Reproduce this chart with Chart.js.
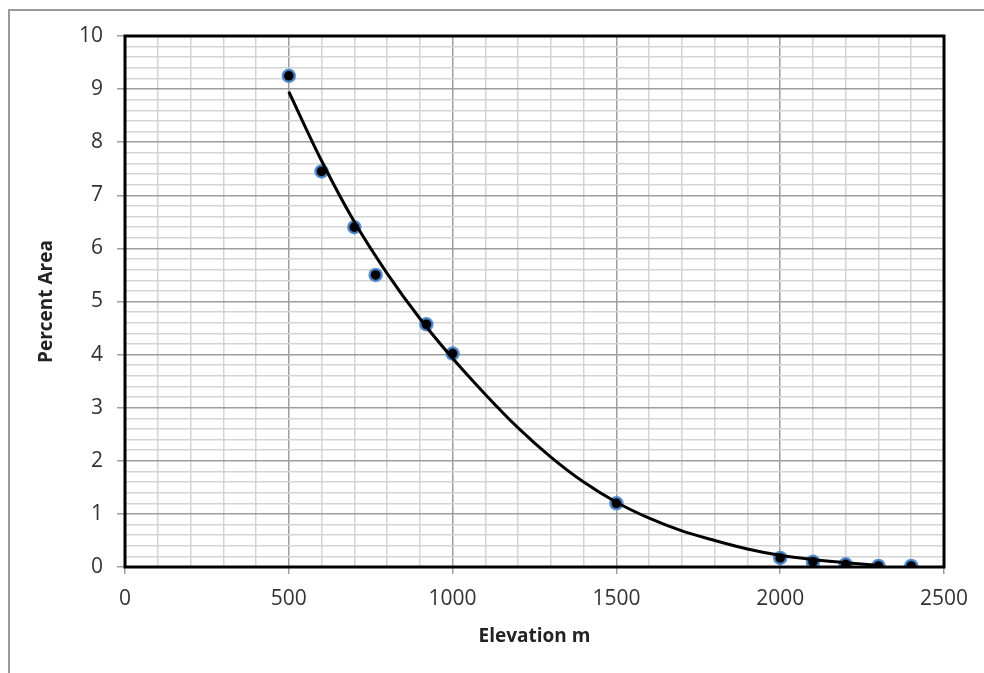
<!DOCTYPE html>
<html>
<head>
<meta charset="utf-8">
<script src="https://cdn.jsdelivr.net/npm/chart.js@4.4.1/dist/chart.umd.min.js"></script>
<style>
  html, body { margin: 0; padding: 0; background: #ffffff; overflow: hidden; }
  #frame { position: absolute; left: 8px; top: 9px; width: 2000px; height: 2000px;
           border-left: 2px solid #9a9a9a; border-top: 2px solid #9a9a9a; }
  #c { position: absolute; left: 0; top: 0; }
</style>
</head>
<body>
<div id="frame"></div>
<canvas id="c" width="984" height="673"></canvas>
<script>
// ---- data ----
const elevation = [500, 600, 700, 765, 920, 1000, 1500, 2000, 2100, 2200, 2300, 2400];
const percentArea = [9.25, 7.45, 6.4, 5.5, 4.57, 4.02, 1.2, 0.17, 0.1, 0.05, 0.02, 0.02];

// trend line as drawn in the reference (read at every 100 m)
const trendX = [500, 600, 700, 800, 900, 1000, 1100, 1200, 1300, 1400, 1500, 1600, 1700, 1800, 1900, 2000, 2100, 2200, 2300];
const trendY = [8.95, 7.65, 6.5, 5.53, 4.68, 3.93, 3.25, 2.62, 2.07, 1.6, 1.22, 0.92, 0.68, 0.5, 0.34, 0.22, 0.14, 0.08, 0.03];

// major tick labels
const xMajorTicks = [0, 500, 1000, 1500, 2000, 2500];
const yMajorTicks = [0, 1, 2, 3, 4, 5, 6, 7, 8, 9, 10];

const xTitle = 'Elevation m';
const yTitle = 'Percent Area';

const isMajor = (list, v) => list.some(m => Math.abs(m - v) < 1e-6);

const framePlugin = {
  id: 'plotFrame',
  afterDraw(chart) {
    const { ctx, chartArea: a } = chart;
    ctx.save();
    ctx.strokeStyle = '#000000';
    ctx.lineWidth = 3;
    ctx.strokeRect(a.left, a.top, a.right - a.left, a.bottom - a.top);
    ctx.restore();
  }
};

const tickFont = { family: "'Open Sans', sans-serif", size: 21 };
const titleFont = { family: "'Open Sans', sans-serif", size: 19, weight: 'bold' };

new Chart(document.getElementById('c'), {
  data: {
    datasets: [
      {
        type: 'line',
        label: 'Trend',
        data: trendX.map((x, i) => ({ x, y: trendY[i] })),
        borderColor: '#000000',
        borderWidth: 3,
        pointRadius: 0,
        fill: false,
        cubicInterpolationMode: 'monotone',
        order: 0
      },
      {
        type: 'scatter',
        label: 'Percent Area',
        data: elevation.map((x, i) => ({ x, y: percentArea[i] })),
        backgroundColor: '#000000',
        borderColor: 'rgba(74,134,205,0.9)',
        borderWidth: 2.5,
        pointRadius: 6,
        order: 1
      }
    ]
  },
  options: {
    responsive: false,
    animation: false,
    devicePixelRatio: 1,
    layout: { padding: { left: 19, top: 36, right: 40, bottom: 25 } },
    plugins: { legend: { display: false }, tooltip: { enabled: false } },
    scales: {
      x: {
        type: 'linear',
        min: 0, max: 2500,
        afterFit(s) { s.height = 81; },
        ticks: {
          stepSize: 100, autoSkip: false, maxRotation: 0, maxTicksLimit: 100,
          padding: 12, color: '#333333', font: tickFont,
          callback: v => isMajor(xMajorTicks, v) ? String(v) : ''
        },
        grid: {
          drawTicks: true, tickLength: 7,
          color: c => isMajor(xMajorTicks, c.tick.value) ? '#9e9e9e' : '#d4d4d4',
          tickColor: c => isMajor(xMajorTicks, c.tick.value) ? '#9e9e9e' : 'rgba(0,0,0,0)',
          lineWidth: 1.5
        },
        border: { display: true, color: '#9e9e9e', width: 1 },
        title: { display: true, text: xTitle, color: '#222222', font: titleFont, padding: { top: 0, bottom: 0 } }
      },
      y: {
        type: 'linear',
        min: 0, max: 10,
        afterFit(s) { s.width = 106; },
        ticks: {
          stepSize: 0.2, autoSkip: false, maxTicksLimit: 100,
          padding: 14, color: '#333333', font: tickFont,
          callback: v => isMajor(yMajorTicks, v) ? String(Math.round(v)) : ''
        },
        grid: {
          drawTicks: true, tickLength: 8,
          color: c => isMajor(yMajorTicks, c.tick.value) ? '#9e9e9e' : '#d4d4d4',
          tickColor: c => isMajor(yMajorTicks, c.tick.value) ? '#9e9e9e' : 'rgba(0,0,0,0)',
          lineWidth: 1.5
        },
        border: { display: true, color: '#9e9e9e', width: 1 },
        title: { display: true, text: yTitle, color: '#222222', font: titleFont, padding: { top: 16, bottom: 0 } }
      }
    }
  },
  plugins: [framePlugin]
});
</script>
</body>
</html>
